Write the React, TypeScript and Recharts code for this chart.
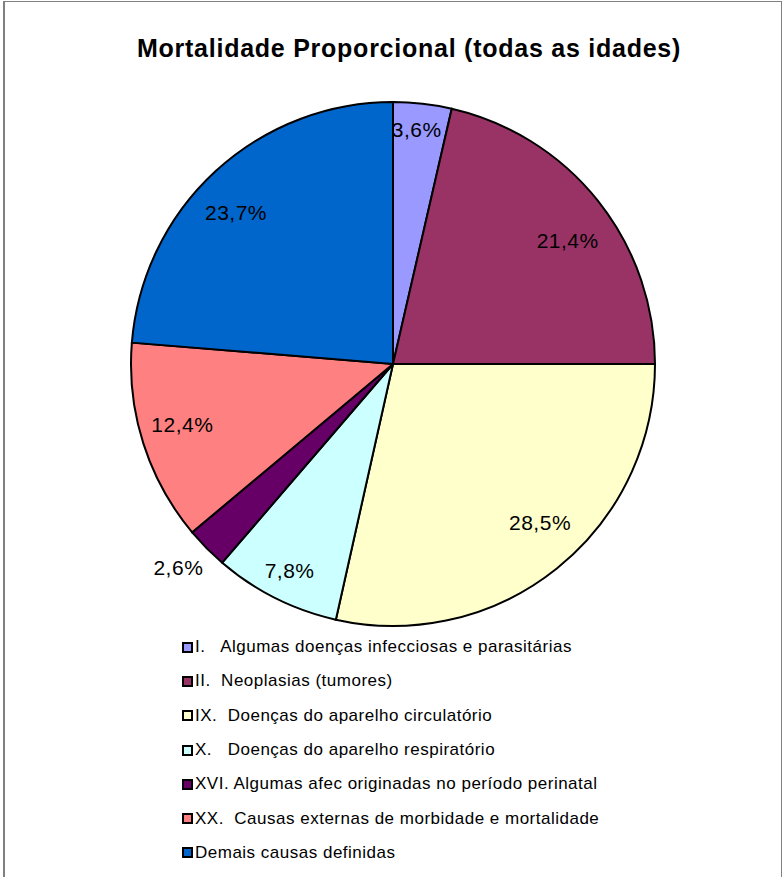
import React from "react";
import { PieChart, Pie, Cell, Legend } from "recharts";

const categories = [
  "I.   Algumas doenças infecciosas e parasitárias",
  "II.  Neoplasias (tumores)",
  "IX.  Doenças do aparelho circulatório",
  "X.   Doenças do aparelho respiratório",
  "XVI. Algumas afec originadas no período perinatal",
  "XX.  Causas externas de morbidade e mortalidade",
  "Demais causas definidas",
];
const values = [3.6, 21.4, 28.5, 7.8, 2.6, 12.4, 23.7];
const labels = ["3,6%", "21,4%", "28,5%", "7,8%", "2,6%", "12,4%", "23,7%"];
const colors = ["#9999FF", "#993366", "#FFFFCC", "#CCFFFF", "#660066", "#FF8080", "#0066CC"];
const labelRadiusFactor = [0.9, 0.817, 0.826, 0.88, 1.13, 0.836, 0.832];
const labelAngleShift = [-0.7, 3.2, -4.1, 0, 1.1, 1.7, -3.4];

const data = categories.map((name, i) => ({ name, value: values[i], label: labels[i] }));

const FONT = "'Liberation Sans', Arial, sans-serif";
const RAD = Math.PI / 180;

const renderLabel = (props: any) => {
  const { cx, cy, midAngle, outerRadius, index } = props;
  const r = outerRadius * labelRadiusFactor[index];
  const a = midAngle - labelAngleShift[index];
  const x = cx + r * Math.cos(-a * RAD);
  const y = cy + r * Math.sin(-a * RAD);
  return (
    <text
      x={x}
      y={y}
      fill="#000"
      textAnchor="middle"
      dominantBaseline="central"
      fontFamily={FONT}
      fontSize={21}
      letterSpacing={0.5}
    >
      {labels[index]}
    </text>
  );
};

const renderLegend = () => (
  <div style={{ fontFamily: FONT, fontSize: 17, letterSpacing: 0.5, color: "#000" }}>
    {data.map((d, i) => (
      <div
        key={d.name}
        style={{ display: "flex", alignItems: "center", height: 34.3, whiteSpace: "pre" }}
      >
        <span
          style={{
            display: "inline-block",
            width: 7,
            height: 7,
            background: colors[i],
            border: "2px solid #000",
            marginRight: 2,
          }}
        />
        <span>{d.name}</span>
      </div>
    ))}
  </div>
);

export default function App() {
  return (
    <div style={{ position: "absolute", left: 0, top: 0, width: 782, height: 877, background: "#fff" }}>
      <div
        style={{
          position: "absolute",
          left: 3,
          top: 1,
          width: 776,
          height: 890,
          borderLeft: "2px solid #808080",
          borderTop: "1px solid #808080",
          borderRight: "2px solid #808080",
        }}
      />
      <div
        style={{
          position: "absolute",
          left: 0,
          top: 33,
          width: 818,
          textAlign: "center",
          fontFamily: FONT,
          fontWeight: "bold",
          fontSize: 25,
          letterSpacing: 0.75,
          lineHeight: "30px",
          color: "#000",
        }}
      >
        Mortalidade Proporcional (todas as idades)
      </div>
      <div style={{ position: "absolute", left: 0, top: 0 }}>
        <PieChart width={782} height={877}>
          <Pie
            data={data}
            dataKey="value"
            nameKey="name"
            cx={388}
            cy={359}
            outerRadius={262}
            startAngle={90}
            endAngle={-270}
            stroke="#000"
            strokeWidth={2}
            label={renderLabel}
            labelLine={false}
            isAnimationActive={false}
          >
            {data.map((d, i) => (
              <Cell key={d.name} fill={colors[i]} />
            ))}
          </Pie>
          <Legend
            content={renderLegend}
            layout="vertical"
            wrapperStyle={{ position: "absolute", left: 182, top: 630, width: 520 }}
          />
        </PieChart>
      </div>
    </div>
  );
}
